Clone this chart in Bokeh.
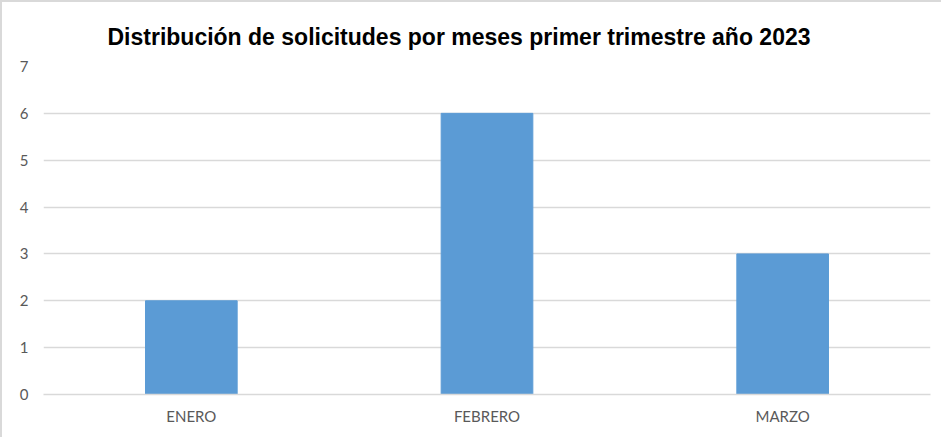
from bokeh.plotting import figure
from bokeh.models import Range1d, FixedTicker, Title
from bokeh.embed import file_html
from bokeh.resources import INLINE

months = ["ENERO", "FEBRERO", "MARZO"]
requests = [2, 6, 3]
y_ticks = [0, 1, 2, 3, 4, 5, 6, 7]
title_text = "Distribución de solicitudes por meses primer trimestre año 2023"

p = figure(x_range=months, y_range=Range1d(0, 7), width=941, height=437,
           output_backend="svg", toolbar_location=None,
           min_border_left=41, min_border_right=13, min_border_top=64, min_border_bottom=45)
p.styles = {"border-left": "2px solid #d9d9d9", "border-top": "2px solid #d9d9d9",
            "box-sizing": "border-box"}

p.vbar(x=months, top=requests, width=0.31, fill_color="#5b9bd5", line_color="#5b9bd5")

t = Title(text=title_text, align="left", offset=64, text_font="Liberation Sans",
          text_font_size="23px", text_font_style="bold", text_color="#000000", standoff=33)
p.add_layout(t, "above")

p.outline_line_color = None
p.xgrid.grid_line_color = None
p.ygrid.grid_line_color = "#d9d9d9"
p.ygrid.grid_line_width = 1.5
p.yaxis.ticker = FixedTicker(ticks=y_ticks)
p.yaxis.axis_line_color = None
p.yaxis.major_tick_line_color = None
p.yaxis.minor_tick_line_color = None
p.yaxis.major_tick_out = 0
p.yaxis.major_label_standoff = 15
p.xaxis.axis_line_color = "#d9d9d9"
p.xaxis.axis_line_width = 1.5
p.xaxis.major_tick_line_color = None
p.xaxis.major_tick_out = 0
p.xaxis.major_label_standoff = 12
for ax in (p.xaxis, p.yaxis):
    ax.major_label_text_font = "Lato"
    ax.major_label_text_font_size = "15px"
    ax.major_label_text_color = "#595959"

open("out.html", "w").write(file_html(p, INLINE))
